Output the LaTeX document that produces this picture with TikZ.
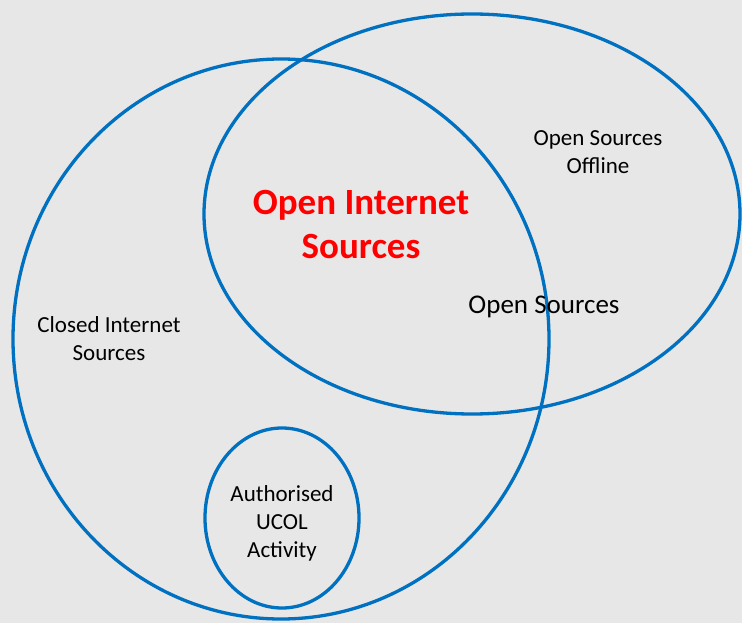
\documentclass[tikz,border=0pt]{standalone}
\usepackage{fontspec}
\setmainfont{Carlito}
\usetikzlibrary{positioning}
\definecolor{vennblue}{HTML}{0070C0}
\definecolor{bggray}{HTML}{E7E7E7}
\begin{document}
\begin{tikzpicture}[x=1pt,y=-1pt]

\fill[bggray] (0,0) rectangle (742,623);
\useasboundingbox (0,0) rectangle (742,623);

\coordinate (C) at (281,339);
\coordinate (O) at (472,214);
\coordinate (U) at (282,518);

\draw[line width=3.3pt, vennblue] (C) ellipse [x radius=268, y radius=280];
\draw[line width=3.3pt, vennblue] (O) ellipse [x radius=268, y radius=200];
\draw[line width=3.3pt, vennblue] (U) ellipse [x radius=77, y radius=90];

\node[align=center, font=\fontsize{37}{44}\selectfont\bfseries, text=red] (oint) at (361,225) {Open Internet\\Sources};
\node[align=center, font=\fontsize{23}{28}\selectfont] (ooff) at (598,152) {Open Sources\\Offline};
\node[font=\fontsize{27}{32}\selectfont] (osrc) at (544,307) {Open Sources};
\node[align=center, font=\fontsize{23}{28}\selectfont] (cint) at (109,339) {Closed Internet\\Sources};
\node[align=center, font=\fontsize{23}{28}\selectfont] (ucol) at (282,523) {Authorised\\UCOL\\Activity};

\end{tikzpicture}
\end{document}
